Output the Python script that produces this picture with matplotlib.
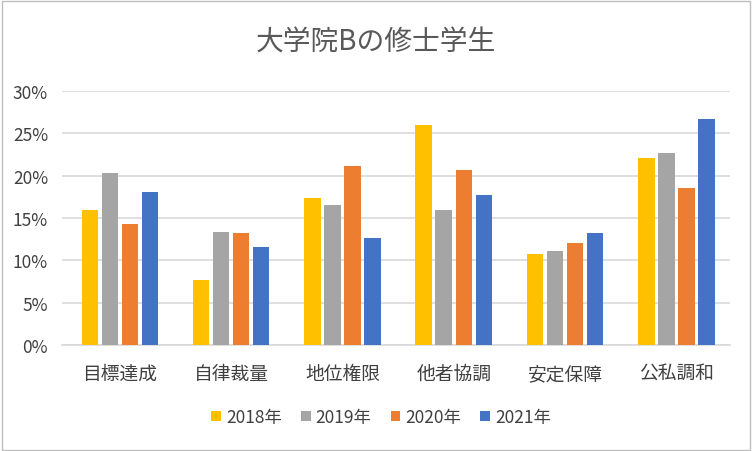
import matplotlib.pyplot as plt
import numpy as np
from matplotlib.patches import Rectangle

plt.rcParams['font.family'] = ['Noto Sans CJK JP', 'DejaVu Sans']

# data
categories = ['目標達成', '自律裁量', '地位権限', '他者協調', '安定保障', '公私調和']
years = ['2018年', '2019年', '2020年', '2021年']
v2018 = [16.0, 7.7, 17.4, 26.0, 10.8, 22.1]
v2019 = [20.3, 13.4, 16.5, 16.0, 11.1, 22.7]
v2020 = [14.3, 13.2, 21.1, 20.7, 12.1, 18.6]
v2021 = [18.1, 11.6, 12.6, 17.7, 13.2, 26.7]
colors = ['#FFC000', '#A5A5A5', '#ED7D31', '#4472C4']

fig = plt.figure(figsize=(7.52, 4.52), dpi=100)
ax = fig.add_axes([0.0824, 0.2345, 0.888, 0.562])

x = np.arange(len(categories))
step = 0.18
for i, (vals, lab, c) in enumerate(zip([v2018, v2019, v2020, v2021], years, colors)):
    ax.bar(x + (i - 1.5) * step + 0.02, vals, width=0.148, color=c, label=lab, zorder=3)

ax.set_xlim(-0.5, len(categories) - 0.5)
ax.set_ylim(0, 30)
ax.set_yticks(range(0, 31, 5))
ax.set_yticklabels([f'{t}%' for t in range(0, 31, 5)])
ax.set_xticks(x + 0.02)
ax.set_xticklabels(categories)
ax.grid(axis='y', color='#D9D9D9', linewidth=1.2, zorder=0)
for s in ['top', 'right', 'left']:
    ax.spines[s].set_visible(False)
ax.spines['bottom'].set_color('#D9D9D9')
ax.spines['bottom'].set_linewidth(1.2)
ax.tick_params(axis='both', length=0, colors='#404040')
ax.tick_params(axis='x', pad=13, labelsize=13.5)
ax.tick_params(axis='y', pad=10, labelsize=12.5)

fig.text(0.5, 0.905, '大学院Bの修士学生', ha='center', va='center', fontsize=20, color='#595959')

fig.legend(loc='center', bbox_to_anchor=(0.507, 0.075), ncol=4, frameon=False,
           fontsize=12.5, handlelength=0.55, handleheight=0.55, handletextpad=0.3,
           columnspacing=1.1, labelcolor='#404040')

fig.patches.append(Rectangle((0.002, 0.003), 0.995, 0.993, transform=fig.transFigure,
                             fill=False, edgecolor='#BFBFBF', linewidth=1))

fig.savefig('out.png', dpi=100)
